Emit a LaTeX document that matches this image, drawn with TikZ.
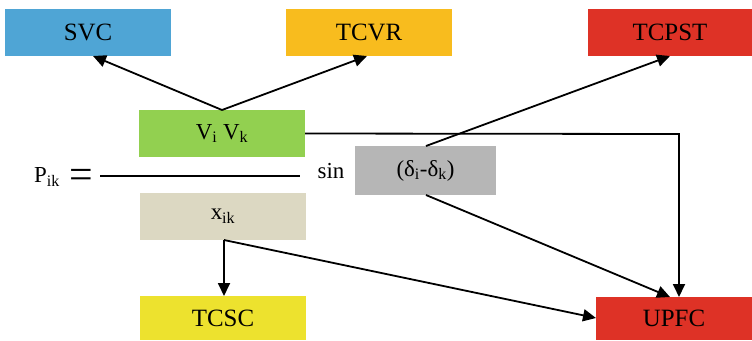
\documentclass[tikz,border=0pt]{standalone}
\usepackage{fontspec}
\setmainfont{Liberation Serif}
\usetikzlibrary{arrows.meta}
\definecolor{cblue}{HTML}{4FA5D5}
\definecolor{corange}{HTML}{F8BC1E}
\definecolor{cred}{HTML}{DE3226}
\definecolor{cgreen}{HTML}{92D050}
\definecolor{cgrey}{HTML}{B6B6B6}
\definecolor{cbeige}{HTML}{DCD8C2}
\definecolor{cyellow}{HTML}{EDE22E}
\begin{document}
\begin{tikzpicture}[x=1bp,y=-1bp,
  box/.style={draw=none,inner sep=0pt,minimum width=166bp,minimum height=47bp,font=\fontsize{25}{28}\selectfont},
  conn/.style={line width=1.8bp,-{Triangle[length=13bp,width=12bp]}},
  plain/.style={line width=1.8bp}]
\useasboundingbox (0,0) rectangle (752,340);
\node[box,fill=cblue] (svc) at (88,32.5) {SVC};
\node[box,fill=corange] (tcvr) at (369,32.5) {TCVR};
\node[box,fill=cred,minimum width=164bp] (tcpst) at (670,32.5) {TCPST};
\node[box,fill=cgreen,font=\fontsize{23}{26}\selectfont] (v) at (222,133.5) {V\textsubscript{i} V\textsubscript{k}};
\node[box,fill=cgrey,minimum width=141bp,minimum height=49bp,font=\fontsize{23}{26}\selectfont] (d) at (425.5,170.5) {(δ\textsubscript{i}-δ\textsubscript{k})};
\node[box,fill=cbeige,font=\fontsize{23}{26}\selectfont] (x) at (223,216.5) {x\textsubscript{ik}};
\node[box,fill=cyellow,minimum height=44bp] (tcsc) at (223,318) {TCSC};
\node[box,fill=cred,minimum width=156bp,minimum height=43bp] (upfc) at (674,318.5) {UPFC};
\node[inner sep=0pt,font=\fontsize{23}{26}\selectfont] (p) at (47,177) {P\textsubscript{ik}};
\node[inner sep=0pt,font=\fontsize{42}{42}\selectfont] (eq) at (81,179) {=};
\node[inner sep=0pt,font=\fontsize{23}{26}\selectfont] (sin) at (331,171) {sin};
\coordinate (f1) at (100,176);
\coordinate (f2) at (300,176);
\draw[plain] (f1) -- (f2);
\coordinate (vt) at (222,110);
\draw[conn] (vt) -- (93,56);
\draw[conn] (vt) -- (367,56);
\coordinate (dt) at (426,146);
\coordinate (db) at (426,195);
\draw[conn] (dt) -- (670,56);
\draw[conn] (v.east) -- (679,134) -- (679,297);
\draw[conn] (db) -- (670,297);
\coordinate (xb) at (224,240);
\draw[conn] (xb) -- (224,296);
\draw[conn] (xb) -- (596,318);
\end{tikzpicture}
\end{document}
